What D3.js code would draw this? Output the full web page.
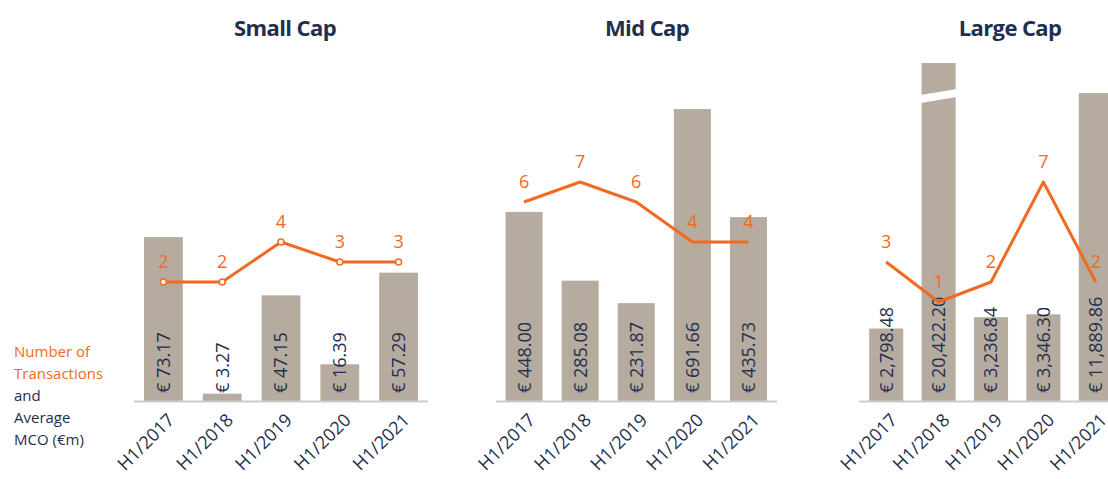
<!DOCTYPE html>
<html><head><meta charset="utf-8">
<script src="https://cdn.jsdelivr.net/npm/d3@7"></script>
<style>body{margin:0;background:#fff}svg{display:block}</style>
</head><body>
<svg id="c" width="1108" height="479"></svg>
<script>
const categories = ["H1/2017","H1/2018","H1/2019","H1/2020","H1/2021"];
const panelTitles = ["Small Cap","Mid Cap","Large Cap"];
const smallCapMCO = [73.17, 3.27, 47.15, 16.39, 57.29];
const midCapMCO = [448.00, 285.08, 231.87, 691.66, 435.73];
const largeCapMCO = [2798.48, 20422.20, 3236.84, 3346.30, 11889.86];
const smallCapDeals = [2, 2, 4, 3, 3];
const midCapDeals = [6, 7, 6, 4, 4];
const largeCapDeals = [3, 1, 2, 7, 2];
const barDomainMax = [160.7, 853, 13900];
const barCap = [null, null, 13050];
const legendLines = [["Number of", true], ["Transactions", true], ["and", false], ["Average", false], ["MCO (€m)", false]];

const NAVY = "#1f2f4e", ORANGE = "#f26a21", BAR = "#b5ab9e", AXIS = "#cbcbcb";
const FONT = "'Open Sans', sans-serif";
const svg = d3.select("#c");

const panels = [
  {title: panelTitles[0], mco: smallCapMCO, deals: smallCapDeals, range: [134, 428], axis: [134, 428], pad: 0.34, titleX: 285, markers: true},
  {title: panelTitles[1], mco: midCapMCO, deals: midCapDeals, range: [496, 776.5], axis: [496, 777], pad: 0.34, titleX: 647, markers: false},
  {title: panelTitles[2], mco: largeCapMCO, deals: largeCapDeals, range: [860, 1122], axis: [859, 1108], pad: 0.35, titleX: 1010, markers: false}
];
const baseY = 401;
const yLine = d3.scaleLinear().domain([0, 10]).range([322, 122]);
const fmt = d3.format(",.2f");

panels.forEach((p, i) => {
  const g = svg.append("g");
  const x = d3.scaleBand().domain(categories).range(p.range).paddingInner(p.pad).paddingOuter(p.pad / 2);
  const y = d3.scaleLinear().domain([0, barDomainMax[i]]).range([baseY, baseY - 360]);
  const data = categories.map((c, k) => ({c, v: p.mco[k], n: p.deals[k]}));
  const cap = barCap[i];

  g.append("text").attr("x", p.titleX).attr("y", 36).attr("text-anchor", "middle")
    .attr("font-family", FONT).attr("font-weight", 700).attr("font-size", 22)
    .attr("fill", NAVY).attr("letter-spacing", -0.6).text(p.title);

  g.selectAll("rect.bar").data(data).join("rect").attr("class", "bar")
    .attr("x", d => x(d.c)).attr("width", x.bandwidth())
    .attr("y", d => y(cap && d.v > cap ? cap : d.v))
    .attr("height", d => baseY - y(cap && d.v > cap ? cap : d.v))
    .attr("fill", BAR);

  if (cap) {
    data.filter(d => d.v > cap).forEach(d => {
      const x0 = x(d.c) - 1, x1 = x(d.c) + x.bandwidth() + 1, t = y(cap);
      g.append("polygon")
        .attr("points", [[x0, t + 32], [x1, t + 26], [x1, t + 34], [x0, t + 40]].map(q => q.join(",")).join(" "))
        .attr("fill", "#fff");
    });
  }

  g.append("line").attr("x1", p.axis[0]).attr("x2", p.axis[1]).attr("y1", baseY + 0.5).attr("y2", baseY + 0.5)
    .attr("stroke", AXIS).attr("stroke-width", 2);

  g.selectAll("text.val").data(data).join("text").attr("class", "val")
    .attr("transform", d => `translate(${x(d.c) + x.bandwidth() / 2},393) rotate(-90)`)
    .attr("dy", "0.36em").attr("text-anchor", "start")
    .attr("font-family", FONT).attr("font-size", 18).attr("fill", NAVY)
    .text(d => "€ " + fmt(d.v));

  g.selectAll("text.cat").data(data).join("text").attr("class", "cat")
    .attr("transform", d => `translate(${x(d.c) + x.bandwidth() / 2 + 3},412) rotate(-45)`)
    .attr("dy", "0.72em").attr("text-anchor", "end")
    .attr("font-family", FONT).attr("font-size", 18).attr("fill", NAVY)
    .text(d => d.c);

  const cx = d => x(d.c) + x.bandwidth() / 2;
  g.append("path").datum(data)
    .attr("d", d3.line().x(cx).y(d => yLine(d.n)))
    .attr("fill", "none").attr("stroke", ORANGE).attr("stroke-width", 3).attr("stroke-linejoin", "round");

  if (p.markers) {
    g.selectAll("circle").data(data).join("circle")
      .attr("cx", cx).attr("cy", d => yLine(d.n)).attr("r", 3)
      .attr("fill", "#fff").attr("stroke", ORANGE).attr("stroke-width", 1.5);
  }

  g.selectAll("text.num").data(data).join("text").attr("class", "num")
    .attr("x", cx).attr("y", d => yLine(d.n) - 20).attr("dy", "0.36em")
    .attr("text-anchor", "middle").attr("font-family", FONT).attr("font-size", 18)
    .attr("fill", ORANGE).text(d => d.n);
});

svg.append("g").selectAll("text").data(legendLines).join("text")
  .attr("x", 14).attr("y", (d, k) => 352 + k * 22).attr("dy", "0.36em")
  .attr("font-family", FONT).attr("font-size", 15)
  .attr("fill", d => d[1] ? ORANGE : NAVY).text(d => d[0]);
</script>
</body></html>
